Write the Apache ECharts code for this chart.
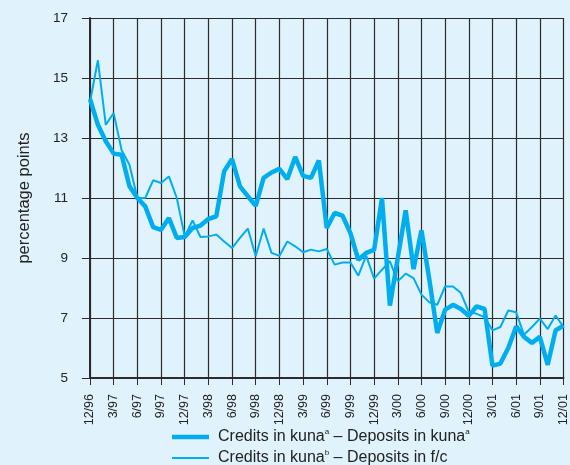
<!DOCTYPE html>
<html>
<head>
<meta charset="utf-8">
<script src="https://cdn.jsdelivr.net/npm/echarts@6/dist/echarts.min.js"></script>
<style>
html,body{margin:0;padding:0;background:#e0f2fc;}
#chart{width:570px;height:465px;}
</style>
</head>
<body>
<div id="chart"></div>
<script>
// Months from 12/96 to 12/01 (labels shown every quarter)
const months = [
  '12/96','1/97','2/97','3/97','4/97','5/97','6/97','7/97','8/97','9/97','10/97','11/97',
  '12/97','1/98','2/98','3/98','4/98','5/98','6/98','7/98','8/98','9/98','10/98','11/98',
  '12/98','1/99','2/99','3/99','4/99','5/99','6/99','7/99','8/99','9/99','10/99','11/99',
  '12/99','1/00','2/00','3/00','4/00','5/00','6/00','7/00','8/00','9/00','10/00','11/00',
  '12/00','1/01','2/01','3/01','4/01','5/01','6/01','7/01','8/01','9/01','10/01','11/01',
  '12/01'
];

const kunaKuna = [
  14.3, 13.44, 12.89, 12.48, 12.44, 11.39, 11.0, 10.72, 10.03, 9.94, 10.33, 9.67,
  9.7, 10.0, 10.08, 10.3, 10.39, 11.89, 12.3, 11.39, 11.06, 10.74, 11.67, 11.85,
  11.97, 11.63, 12.37, 11.74, 11.67, 12.25, 10.0, 10.5, 10.41, 9.83, 8.94, 9.17,
  9.27, 11.0, 7.41, 9.0, 10.59, 8.63, 9.92, 8.28, 6.5, 7.28, 7.44, 7.3,
  7.07, 7.39, 7.3, 5.41, 5.48, 6.0, 6.72, 6.37, 6.17, 6.37, 5.44, 6.59,
  6.74
];

const kunaFc = [
  14.2, 15.59, 13.44, 13.83, 12.6, 12.11, 11.0, 11.0, 11.59, 11.5, 11.72, 11.0,
  9.72, 10.25, 9.7, 9.72, 9.78, 9.55, 9.33, 9.67, 9.98, 9.06, 9.98, 9.17,
  9.07, 9.55, 9.39, 9.19, 9.28, 9.22, 9.3, 8.78, 8.85, 8.85, 8.41, 9.08,
  8.31, 8.61, 8.89, 8.22, 8.48, 8.33, 7.78, 7.52, 7.44, 8.05, 8.05, 7.83,
  7.2, 7.14, 7.03, 6.59, 6.7, 7.25, 7.19, 6.44, 6.7, 6.98, 6.63, 7.08,
  6.7
];

const seriesNames = [
  'Credits in kuna{sup|a} – Deposits in kuna{sup|a}',
  'Credits in kuna{sup|b} – Deposits in f/c'
];
const yTicks = { min: 5, max: 17, interval: 2 };

const lineColor = '#00aeef';
const dark = '#2b2b2b';

const legendText = {
  fontSize: 16,
  color: '#222',
  lineHeight: 18,
  padding: [0, 0, 0, 4],
  rich: {
    sup: { fontSize: 8, verticalAlign: 'top', lineHeight: 18, color: '#222' }
  }
};

function makeLegend(name, top, h) {
  return {
    orient: 'vertical',
    left: 172,
    top: top,
    padding: 0,
    itemWidth: 37,
    itemHeight: h,
    icon: 'rect',
    itemStyle: { color: lineColor, borderWidth: 0 },
    data: [{ name: name, icon: 'rect' }],
    textStyle: legendText
  };
}

const chart = echarts.init(document.getElementById('chart'));
chart.setOption({
  backgroundColor: '#e0f2fc',
  animation: false,
  textStyle: { fontFamily: 'Liberation Sans, Arial, sans-serif' },
  grid: { left: 90, right: 6, top: 18, bottom: 87, containLabel: false },
  legend: [
    makeLegend(seriesNames[0], 428, 4.5),
    makeLegend(seriesNames[1], 449, 2)
  ],
  xAxis: {
    type: 'category',
    data: months,
    boundaryGap: false,
    axisLine: { lineStyle: { color: dark, width: 2 } },
    axisTick: { show: true, interval: 2, length: 7, lineStyle: { color: dark } },
    axisLabel: { interval: 2, rotate: 90, fontSize: 12.5, color: '#222', margin: 16 },
    splitLine: { show: true, interval: 2, lineStyle: { color: dark, width: 1.2 } }
  },
  yAxis: {
    type: 'value',
    min: yTicks.min,
    max: yTicks.max,
    interval: yTicks.interval,
    name: 'percentage points',
    nameLocation: 'middle',
    nameGap: 57,
    nameTextStyle: { fontSize: 16.5, color: '#222' },
    axisLine: { show: true, lineStyle: { color: dark, width: 2 } },
    axisTick: { show: true, length: 8, lineStyle: { color: dark } },
    axisLabel: { fontSize: 13.5, color: '#222', margin: 22 },
    splitLine: { show: true, lineStyle: { color: dark, width: 1.2 } }
  },
  series: [
    {
      name: seriesNames[0],
      type: 'line',
      data: kunaKuna,
      symbol: 'none',
      lineStyle: { color: lineColor, width: 4.5 },
      itemStyle: { color: lineColor },
      z: 3
    },
    {
      name: seriesNames[1],
      type: 'line',
      data: kunaFc,
      symbol: 'none',
      lineStyle: { color: lineColor, width: 2 },
      itemStyle: { color: lineColor },
      z: 2
    }
  ]
});
</script>
</body>
</html>
